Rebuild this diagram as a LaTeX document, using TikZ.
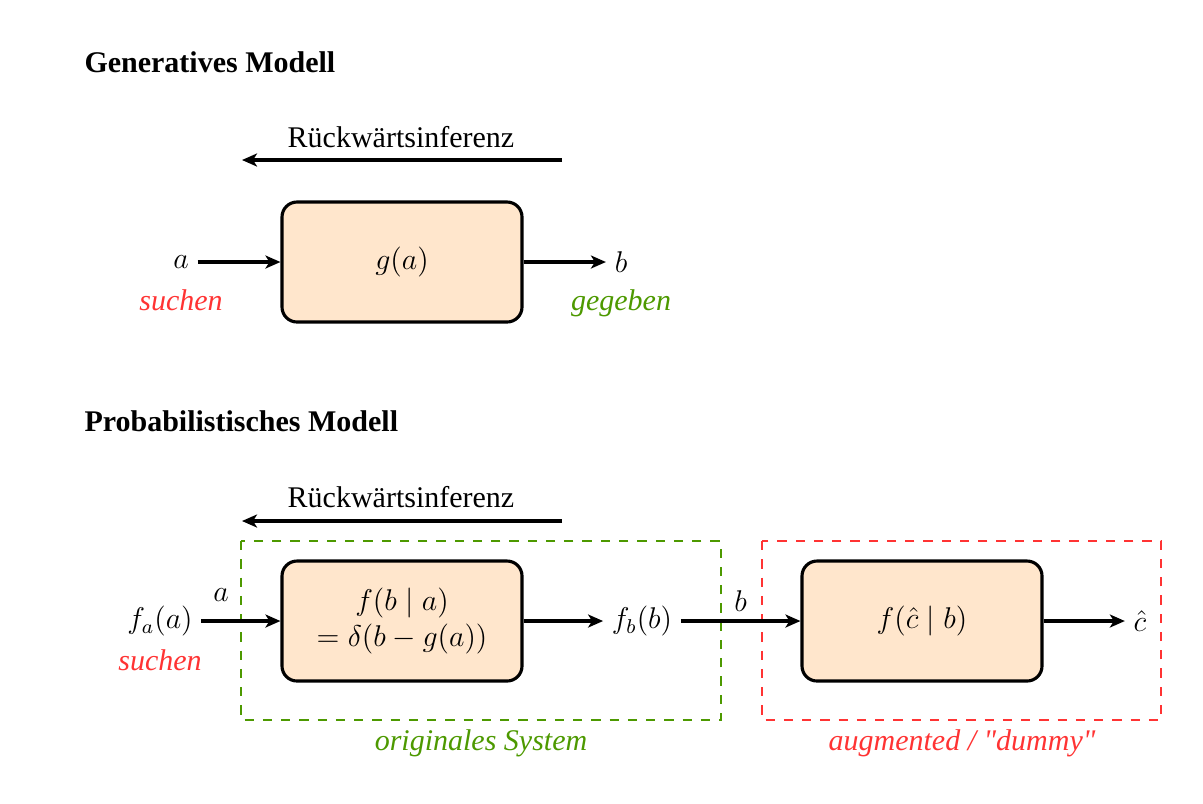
\documentclass[tikz,border=0pt]{standalone}
\usepackage{fontspec}
\setmainfont{Liberation Serif}
\newfontfamily\quotefont{Liberation Serif}[Ligatures=ResetAll]
\usetikzlibrary{arrows.meta}
\definecolor{boxfill}{HTML}{FFE6CC}
\definecolor{myred}{HTML}{FF3333}
\definecolor{mygreen}{HTML}{4D9900}
\newcommand{\strq}{{\quotefont\itshape\char34}}
\begin{document}
\begin{tikzpicture}[x=0.4pt,y=-0.4pt,
  every node/.style={font=\fontsize{12}{14.5}\selectfont},
  blockbox/.style={draw, line width=1.25pt, rounded corners=6pt, fill=boxfill,
    minimum width=96pt, minimum height=48pt, align=center},
  flow/.style={line width=1.3pt, -{Stealth[length=6pt,width=5.2pt,inset=1.6pt]}},
  grpbox/.style={line width=1.15pt, dash pattern=on 3.7pt off 3.6pt},
  title/.style={anchor=base west, inner sep=0pt, font=\fontsize{12}{14.5}\selectfont\bfseries},
  note/.style={anchor=base, font=\fontsize{12}{14.5}\selectfont\itshape}]
\useasboundingbox (0,0) rectangle (1203,803);

% ---------- Generatives Modell ----------
\node[title] (t1) at (84,72) {Generatives Modell};
\node[anchor=base] (rw1) at (401,147) {Rückwärtsinferenz};
\coordinate (r1s) at (562,160);
\coordinate (r1e) at (242,160);
\draw[flow] (r1s) -- (r1e);

\node[blockbox] (g) at (402,262) {$g(a)$};
\node (a1) at (181,262) {$a$};
\node (b1) at (621,262) {$b$};
\draw[flow] (a1) -- (g);
\draw[flow] (g) -- (b1);
\node[note, text=myred] (s1) at (181,310) {suchen};
\node[note, text=mygreen] (gg) at (621,310) {gegeben};

% ---------- Probabilistisches Modell ----------
\node[title] (t2) at (84,431) {Probabilistisches Modell};
\node[anchor=base] (rw2) at (401,507) {Rückwärtsinferenz};
\coordinate (r2s) at (562,521);
\coordinate (r2e) at (242,521);
\draw[flow] (r2s) -- (r2e);

\draw[grpbox, mygreen] (241,541) rectangle (721,720);
\draw[grpbox, myred] (762,541) rectangle (1161,720);
\node[note, text=mygreen] (orig) at (481,750) {originales System};
\node[note, text=myred] (aug) at (962,750) {augmented / \strq dummy\strq};

\node[blockbox] (fba) at (402,621) {$f(b \mid a)$\\$= \delta(b - g(a))$};
\node[blockbox] (fcb) at (922,621) {$f(\hat{c} \mid b)$};
\node (fa) at (160,621) {$f_a(a)$};
\node (fb) at (642,621) {$f_b(b)$};
\node (ch) at (1140,621) {$\hat{c}$};
\node (la) at (221,595) {$a$};
\draw[flow] (fa) -- (fba);
\draw[flow] (fba) -- (fb);
\draw[flow] (fb) -- node[above] (lb) {$b$} (fcb);
\draw[flow] (fcb) -- (ch);
\node[note, text=myred] (s2) at (160,670) {suchen};
\end{tikzpicture}
\end{document}
